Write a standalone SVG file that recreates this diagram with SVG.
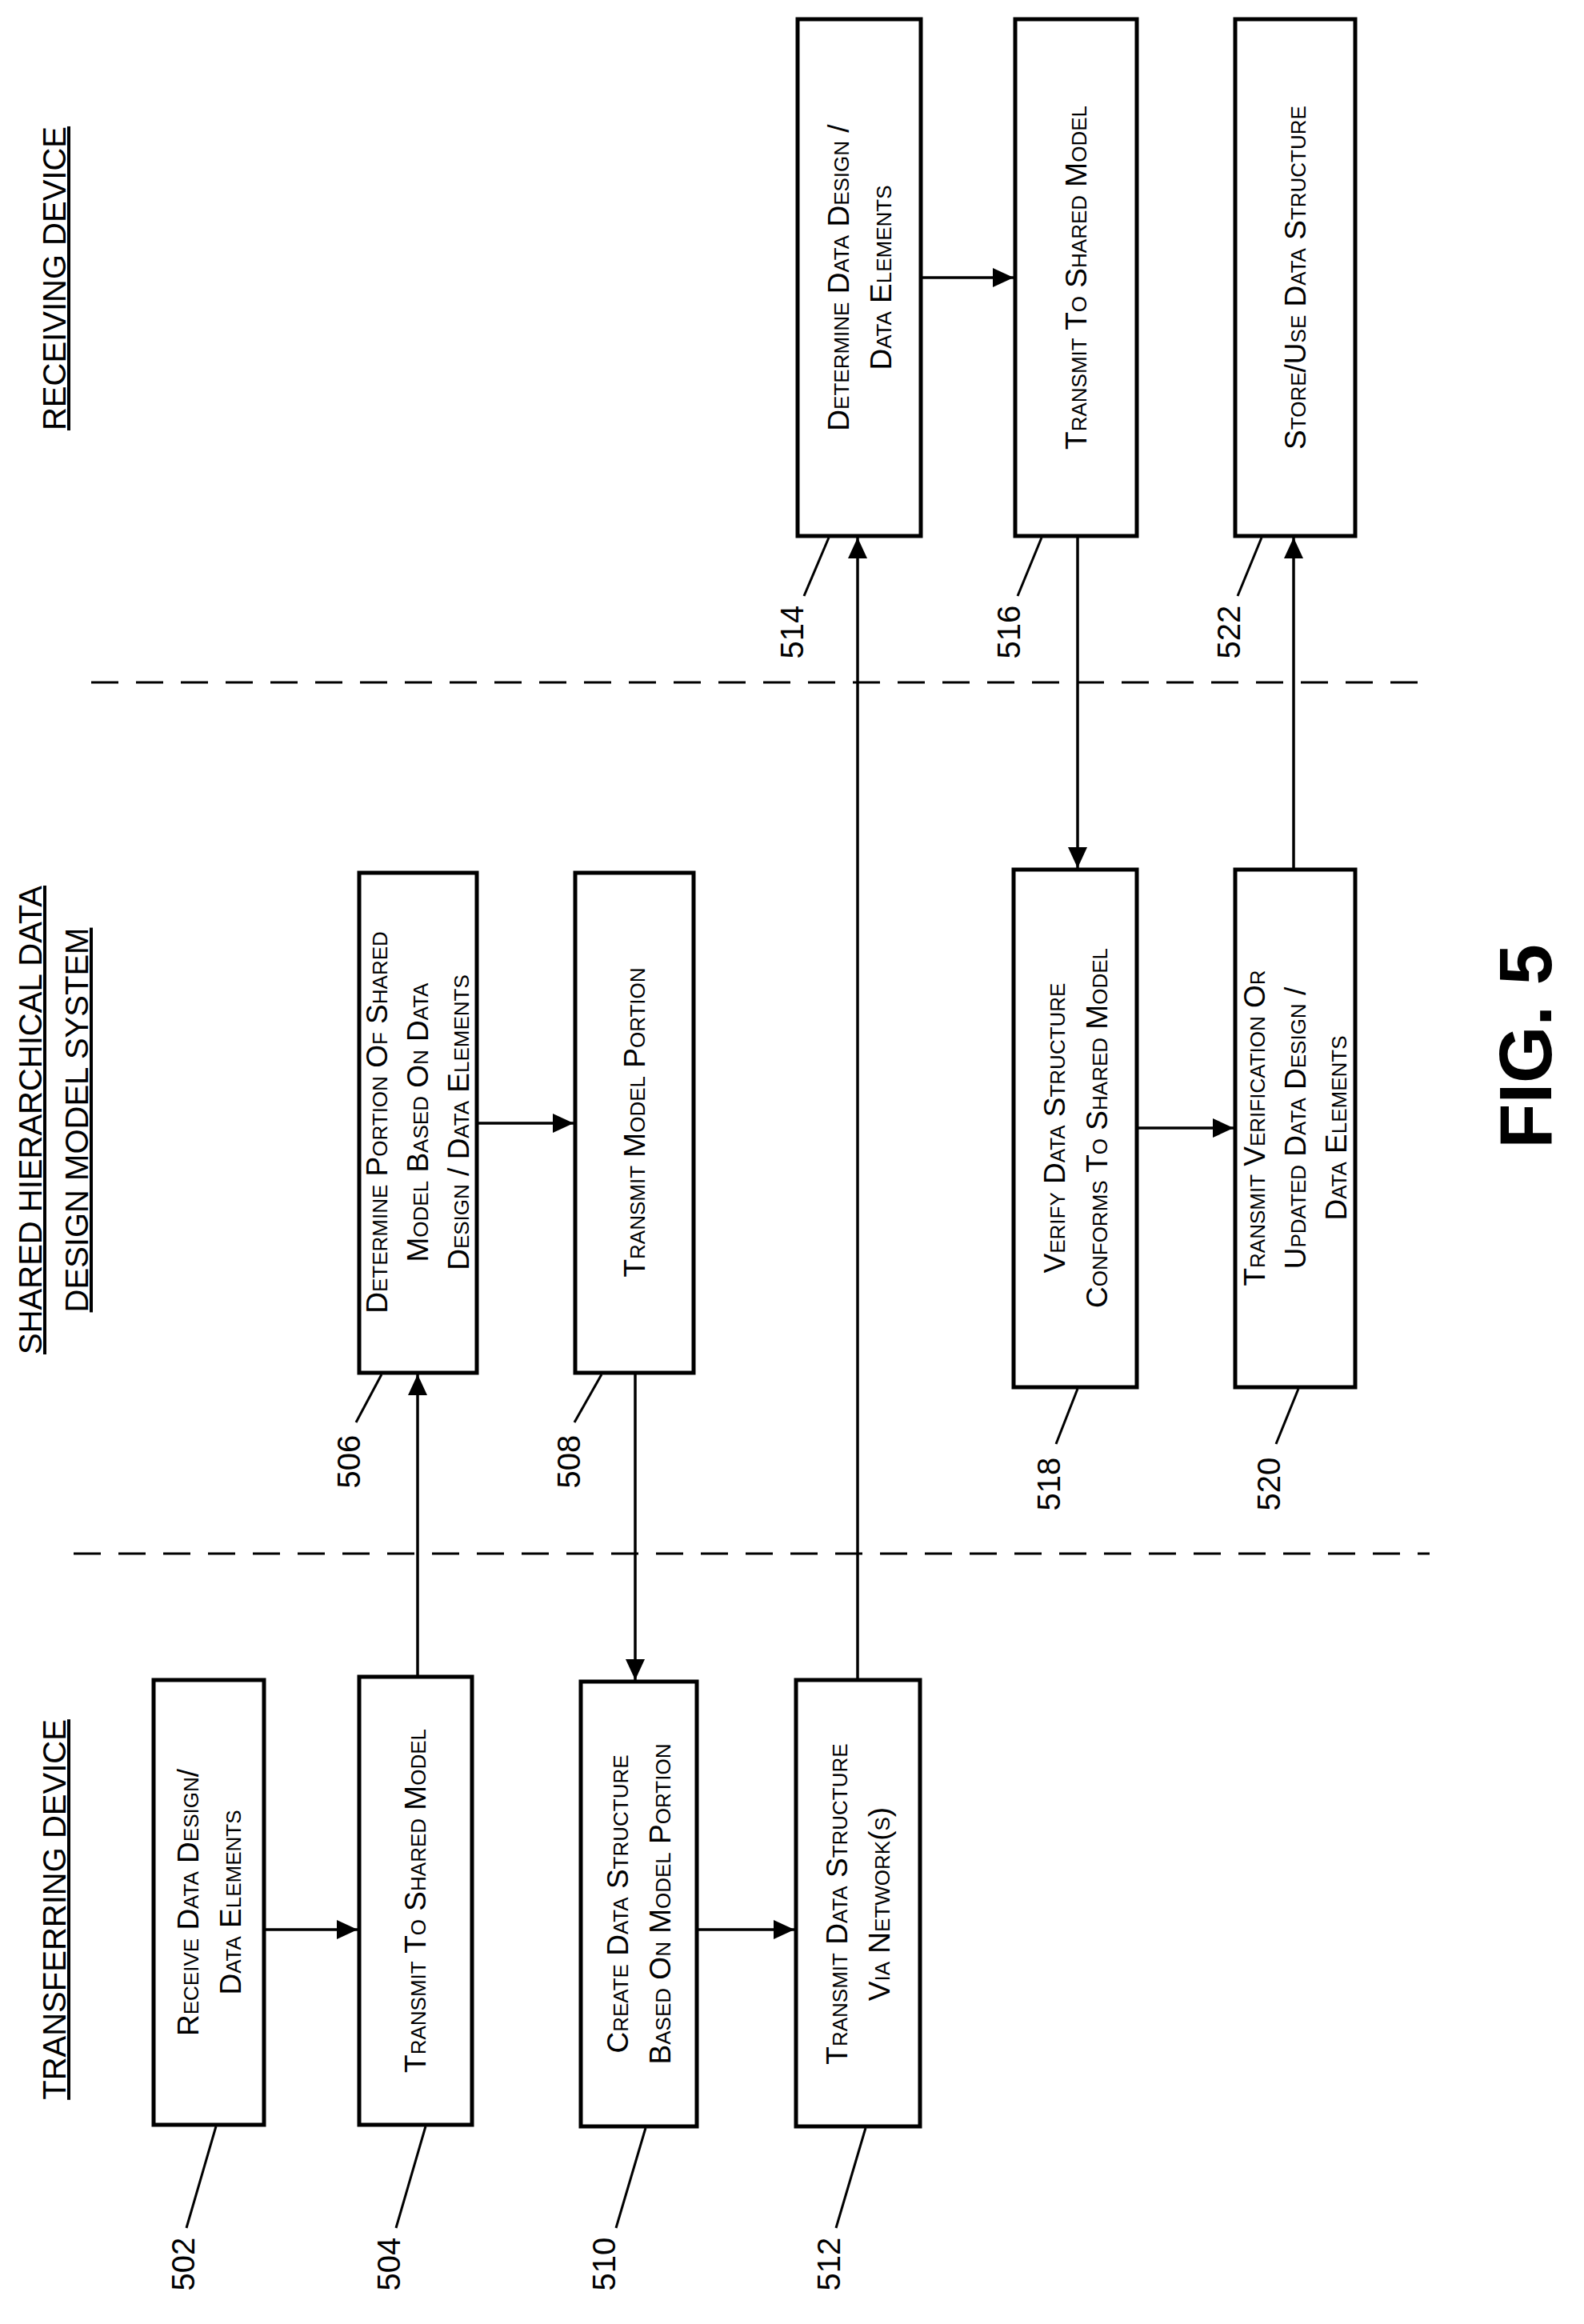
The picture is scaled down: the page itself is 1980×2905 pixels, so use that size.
<svg xmlns="http://www.w3.org/2000/svg" width="1980" height="2905" viewBox="0 0 1980 2905">
<defs>
<marker id="ah" markerUnits="userSpaceOnUse" markerWidth="28" markerHeight="24" refX="26" refY="12" orient="auto"><path d="M0,0 L26,12 L0,24 Z" fill="#000"/></marker>
</defs>
<style>
.box{fill:#fff;stroke:#000;stroke-width:5}
.t{font-family:"Liberation Sans",Arial,sans-serif;font-size:37px;font-variant:small-caps;text-anchor:middle;dominant-baseline:central}
.h{font-family:"Liberation Sans",Arial,sans-serif;font-size:40px;text-anchor:middle;text-decoration:underline}
.n{font-family:"Liberation Sans",Arial,sans-serif;font-size:40px;text-anchor:middle;dominant-baseline:central}
.ld{stroke:#000;stroke-width:3;fill:none}
.c{stroke:#000;stroke-width:3.5;fill:none;marker-end:url(#ah)}
.c2{stroke:#000;stroke-width:3.5;fill:none}
.d{stroke:#000;stroke-width:3;stroke-dasharray:34 22}
</style>
<rect width="1980" height="2905" fill="#fff"/>
<g id="dividers">
<line class="d" x1="114" y1="853" x2="1778" y2="853"/>
<line class="d" x1="92" y1="1942" x2="1787" y2="1942"/>
</g>
<g id="headers">
<text class="h" transform="translate(82,2387) rotate(-90)">TRANSFERRING DEVICE</text>
<text class="h" transform="translate(52,1400) rotate(-90)">SHARED HIERARCHICAL DATA</text>
<text class="h" transform="translate(110,1400) rotate(-90)">DESIGN MODEL SYSTEM</text>
<text class="h" transform="translate(82,348) rotate(-90)">RECEIVING DEVICE</text>
</g>
<g id="connectors">
<line class="c" x1="332" y1="2412" x2="447" y2="2412"/>
<line class="c" x1="522" y1="2094" x2="522" y2="1718"/>
<line class="c" x1="598" y1="1404" x2="717" y2="1404"/>
<line class="c" x1="794" y1="1718" x2="794" y2="2100"/>
<line class="c" x1="873" y1="2412" x2="993" y2="2412"/>
<line class="c" x1="1072" y1="2098" x2="1072" y2="672"/>
<line class="c" x1="1153" y1="347" x2="1267" y2="347"/>
<line class="c" x1="1347" y1="672" x2="1347" y2="1085"/>
<line class="c" x1="1423" y1="1410" x2="1542" y2="1410"/>
<line class="c" x1="1617" y1="1085" x2="1617" y2="672"/>
</g>
<g id="n502"><rect class="box" x="192" y="2100" width="138" height="556"/>
<text class="t" transform="translate(261,2378) rotate(-90)"><tspan x="0" dy="-26">Receive Data Design/</tspan><tspan x="0" dy="53">Data Elements</tspan></text>
<path class="ld" d="M270,2658 L233,2785"/><text class="n" transform="translate(229,2830) rotate(-90)">502</text></g>
<g id="n504"><rect class="box" x="449" y="2096" width="141" height="560"/>
<text class="t" transform="translate(519,2376) rotate(-90)">Transmit To Shared Model</text>
<path class="ld" d="M532,2658 L495,2785"/><text class="n" transform="translate(486,2830) rotate(-90)">504</text></g>
<g id="n510"><rect class="box" x="726" y="2102" width="145" height="556"/>
<text class="t" transform="translate(798,2380) rotate(-90)"><tspan x="0" dy="-26">Create Data Structure</tspan><tspan x="0" dy="53">Based On Model Portion</tspan></text>
<path class="ld" d="M807,2660 L770,2785"/><text class="n" transform="translate(755,2830) rotate(-90)">510</text></g>
<g id="n512"><rect class="box" x="995" y="2100" width="155" height="558"/>
<text class="t" transform="translate(1072,2380) rotate(-90)"><tspan x="0" dy="-26">Transmit Data Structure</tspan><tspan x="0" dy="53">Via Network(s)</tspan></text>
<path class="ld" d="M1082,2660 L1045,2785"/><text class="n" transform="translate(1036,2830) rotate(-90)">512</text></g>
<g id="n506"><rect class="box" x="449" y="1091" width="147" height="625"/>
<text class="t" transform="translate(522,1403) rotate(-90)"><tspan x="0" dy="-51">Determine Portion Of Shared</tspan><tspan x="0" dy="51">Model Based On Data</tspan><tspan x="0" dy="51">Design / Data Elements</tspan></text>
<path class="ld" d="M477,1718 L445,1778"/><text class="n" transform="translate(436,1827) rotate(-90)">506</text></g>
<g id="n508"><rect class="box" x="719" y="1091" width="148" height="625"/>
<text class="t" transform="translate(793,1403) rotate(-90)">Transmit Model Portion</text>
<path class="ld" d="M752,1718 L718,1778"/><text class="n" transform="translate(711,1827) rotate(-90)">508</text></g>
<g id="n518"><rect class="box" x="1267" y="1087" width="154" height="647"/>
<text class="t" transform="translate(1344,1410) rotate(-90)"><tspan x="0" dy="-26">Verify Data Structure</tspan><tspan x="0" dy="53">Conforms To Shared Model</tspan></text>
<path class="ld" d="M1347,1736 L1320,1805"/><text class="n" transform="translate(1311,1855) rotate(-90)">518</text></g>
<g id="n520"><rect class="box" x="1544" y="1087" width="150" height="647"/>
<text class="t" transform="translate(1619,1410) rotate(-90)"><tspan x="0" dy="-51">Transmit Verification Or</tspan><tspan x="0" dy="51">Updated Data Design /</tspan><tspan x="0" dy="51">Data Elements</tspan></text>
<path class="ld" d="M1623,1736 L1595,1805"/><text class="n" transform="translate(1586,1855) rotate(-90)">520</text></g>
<g id="n514"><rect class="box" x="997" y="24" width="154" height="646"/>
<text class="t" transform="translate(1074,347) rotate(-90)"><tspan x="0" dy="-26">Determine Data Design /</tspan><tspan x="0" dy="53">Data Elements</tspan></text>
<path class="ld" d="M1036,672 L1005,745"/><text class="n" transform="translate(990,790) rotate(-90)">514</text></g>
<g id="n516"><rect class="box" x="1269" y="24" width="152" height="646"/>
<text class="t" transform="translate(1345,347) rotate(-90)">Transmit To Shared Model</text>
<path class="ld" d="M1302,672 L1272,745"/><text class="n" transform="translate(1261,790) rotate(-90)">516</text></g>
<g id="n522"><rect class="box" x="1544" y="24" width="150" height="646"/>
<text class="t" transform="translate(1619,347) rotate(-90)">Store/Use Data Structure</text>
<path class="ld" d="M1577,672 L1547,745"/><text class="n" transform="translate(1536,790) rotate(-90)">522</text></g>
<text transform="translate(1907,1308) rotate(-90)" style="font-family:'Liberation Sans',Arial,sans-serif;font-size:92px;font-weight:bold;text-anchor:middle;dominant-baseline:central">FIG. 5</text>
</svg>
